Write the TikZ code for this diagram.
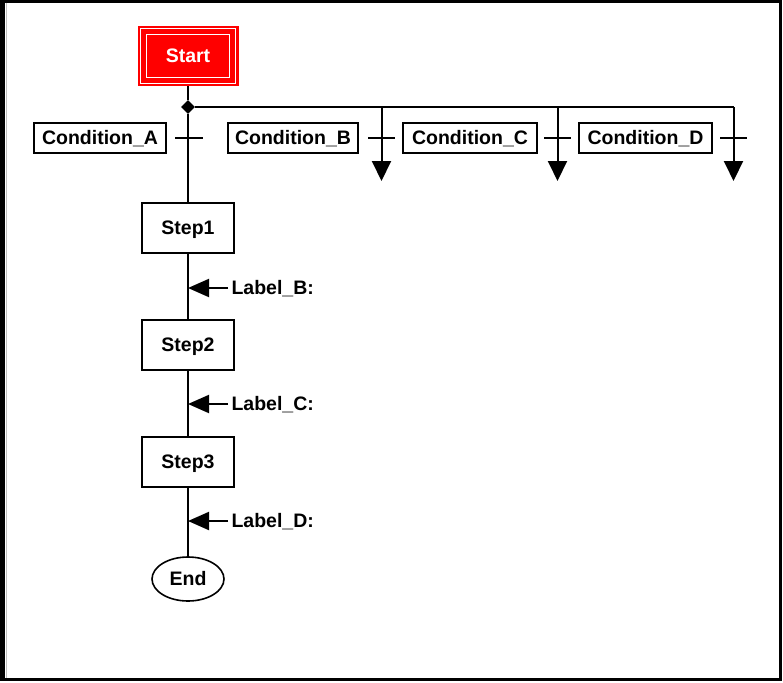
\documentclass[tikz,border=0pt]{standalone}
\usepackage{fontspec}
\setmainfont{Liberation Sans}
\usetikzlibrary{arrows.meta,shapes.geometric}
\begin{document}
\begin{tikzpicture}[x=1pt,y=-1pt,
  every node/.style={font=\fontsize{19.5}{22}\selectfont\bfseries},
  capcentre/.style={text height=13.8pt,text depth=0pt},
  wire/.style={line width=2pt},
  condbox/.style={draw,line width=1.6pt,minimum height=30pt,inner sep=0pt,capcentre},
  stepbox/.style={draw,line width=1.6pt,minimum width=92pt,minimum height=50pt,inner sep=0pt,capcentre},
  drop/.style={wire,-{Triangle[length=20pt,width=19pt]}},
  lblarrow/.style={wire,-{Triangle[length=21pt,width=18pt]}},
  tickmark/.style={line width=1.8pt}]
\useasboundingbox (0,0) rectangle (783,682);
% window frame
\draw[line width=3pt] (1.5,1.5) rectangle (780.5,679.5);
\draw[line width=2pt] (4,1) -- (4,680);
\draw[gray!50,line width=1pt] (6,3) -- (6,678);

% start step
\node[fill=red,minimum width=101pt,minimum height=60pt,inner sep=0pt,text=white,capcentre] (start) at (188,56) {Start};
\draw[white,line width=1.2pt] ([shift={(3pt,3pt)}]start.south west) rectangle ([shift={(-3pt,-3pt)}]start.north east);
\draw[white,line width=1.2pt] ([shift={(9pt,9pt)}]start.south west) rectangle ([shift={(-9pt,-9pt)}]start.north east);

% branch point
\node[diamond,fill=black,inner sep=0pt,minimum width=14pt,minimum height=14pt] (fork) at (188,107) {};
\coordinate (bB) at (381.5,107);
\coordinate (bC) at (557.5,107);
\coordinate (bD) at (733.5,107);
\coordinate (eB) at (381.5,181);
\coordinate (eC) at (557.5,181);
\coordinate (eD) at (733.5,181);
\draw[wire] (start.south) -- (fork);
\draw[wire] (fork) -- (bB) -- (bC) -- (bD);
\draw[drop] (bB) -- (eB);
\draw[drop] (bC) -- (eC);
\draw[drop] (bD) -- (eD);

% transition conditions
\node[condbox,minimum width=132pt] (cA) at (100,138) {Condition\_A};
\node[condbox,minimum width=130pt] (cB) at (293,138) {Condition\_B};
\node[condbox,minimum width=134pt] (cC) at (470,138) {Condition\_C};
\node[condbox,minimum width=133pt] (cD) at (645.5,138) {Condition\_D};
\coordinate (tA1) at (175,138); \coordinate (tA2) at (203,138);
\coordinate (tB1) at (368,138); \coordinate (tB2) at (395,138);
\coordinate (tC1) at (544,138); \coordinate (tC2) at (571,138);
\coordinate (tD1) at (720,138); \coordinate (tD2) at (747,138);
\draw[tickmark] (tA1) -- (tA2);
\draw[tickmark] (tB1) -- (tB2);
\draw[tickmark] (tC1) -- (tC2);
\draw[tickmark] (tD1) -- (tD2);

% main sequence
\node[stepbox] (s1) at (188,228) {Step1};
\node[stepbox] (s2) at (188,345) {Step2};
\node[stepbox] (s3) at (188,462) {Step3};
\node[ellipse,draw,line width=1.6pt,minimum width=72pt,minimum height=44pt,inner sep=0pt,capcentre] (end) at (188,579) {End};
\draw[wire] (fork) -- (s1);
\draw[wire] (s1) -- (s2);
\draw[wire] (s2) -- (s3);
\draw[wire] (s3) -- (end);

% step labels
\node[anchor=west,capcentre] (lB) at (228,288) {Label\_B:};
\node[anchor=west,capcentre] (lC) at (228,404) {Label\_C:};
\node[anchor=west,capcentre] (lD) at (228,521) {Label\_D:};
\coordinate (pB) at (188,288);
\coordinate (pC) at (188,404);
\coordinate (pD) at (188,521);
\draw[lblarrow] (lB.west) -- (pB);
\draw[lblarrow] (lC.west) -- (pC);
\draw[lblarrow] (lD.west) -- (pD);
\end{tikzpicture}
\end{document}
